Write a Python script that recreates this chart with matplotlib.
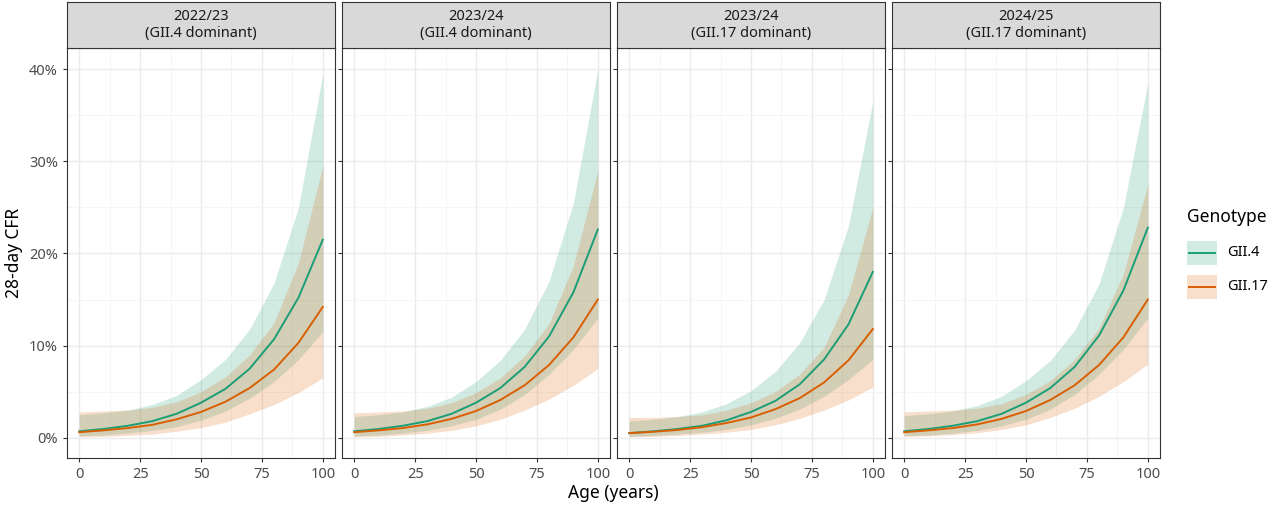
import matplotlib.pyplot as plt
from matplotlib.patches import Rectangle
from matplotlib.lines import Line2D

plt.rcParams['font.family'] = ['Noto Sans', 'DejaVu Sans']

ages = [0, 10, 20, 30, 40, 50, 60, 70, 80, 90, 100]
titles = ["2022/23\n(GII.4 dominant)", "2023/24\n(GII.4 dominant)",
          "2023/24\n(GII.17 dominant)", "2024/25\n(GII.17 dominant)"]

# CFR in %, per panel: (mid, lo, hi)
gii4 = [
    ([0.7, 0.95, 1.3, 1.8, 2.6, 3.8, 5.3, 7.5, 10.7, 15.2, 21.5],
     [0.2, 0.3, 0.5, 0.8, 1.2, 1.9, 2.9, 4.3, 6.1, 8.5, 11.5],
     [2.5, 2.7, 3.0, 3.6, 4.6, 6.3, 8.5, 11.8, 16.8, 25.0, 39.5]),
    ([0.7, 0.95, 1.3, 1.8, 2.6, 3.8, 5.4, 7.7, 11.0, 15.8, 22.6],
     [0.2, 0.3, 0.5, 0.8, 1.3, 2.0, 3.1, 4.7, 6.9, 9.6, 13.0],
     [2.3, 2.5, 2.8, 3.4, 4.4, 6.1, 8.4, 11.8, 17.0, 25.5, 40.0]),
    ([0.5, 0.7, 0.95, 1.3, 1.9, 2.8, 4.0, 5.8, 8.5, 12.3, 18.0],
     [0.15, 0.25, 0.4, 0.6, 0.9, 1.4, 2.1, 3.1, 4.5, 6.3, 8.5],
     [1.8, 2.0, 2.3, 2.8, 3.7, 5.1, 7.2, 10.3, 15.0, 23.0, 36.5]),
    ([0.7, 0.95, 1.3, 1.8, 2.6, 3.8, 5.4, 7.7, 11.1, 16.0, 22.8],
     [0.2, 0.3, 0.5, 0.8, 1.3, 2.0, 3.1, 4.7, 6.9, 9.6, 13.0],
     [2.4, 2.6, 2.9, 3.5, 4.5, 6.2, 8.4, 11.7, 16.7, 25.0, 38.5]),
]
gii17 = [
    ([0.6, 0.8, 1.05, 1.4, 2.0, 2.8, 3.9, 5.4, 7.4, 10.3, 14.2],
     [0.1, 0.15, 0.25, 0.4, 0.7, 1.1, 1.7, 2.6, 3.6, 4.9, 6.5],
     [2.8, 2.9, 3.0, 3.3, 3.9, 5.0, 6.6, 9.0, 12.5, 19.0, 29.5]),
    ([0.6, 0.8, 1.05, 1.45, 2.05, 2.9, 4.1, 5.7, 7.9, 10.9, 15.0],
     [0.1, 0.15, 0.3, 0.5, 0.8, 1.3, 2.0, 3.0, 4.2, 5.7, 7.5],
     [2.7, 2.8, 2.9, 3.2, 3.8, 4.9, 6.5, 8.9, 12.4, 18.7, 29.0]),
    ([0.5, 0.65, 0.85, 1.15, 1.6, 2.2, 3.1, 4.3, 6.0, 8.4, 11.8],
     [0.1, 0.15, 0.25, 0.4, 0.6, 0.9, 1.4, 2.1, 3.0, 4.1, 5.5],
     [2.2, 2.2, 2.3, 2.5, 3.0, 3.8, 5.0, 6.9, 9.8, 15.5, 25.0]),
    ([0.6, 0.8, 1.05, 1.45, 2.05, 2.9, 4.1, 5.7, 7.9, 10.9, 15.0],
     [0.15, 0.2, 0.35, 0.55, 0.9, 1.4, 2.2, 3.2, 4.5, 6.1, 8.0],
     [2.8, 2.9, 3.0, 3.2, 3.7, 4.7, 6.2, 8.5, 11.9, 17.8, 27.5]),
]

c4 = "#1b9e77"
c17 = "#d95f02"

fig = plt.figure(figsize=(12.8, 5.07), dpi=100)
lefts = [67, 342, 617, 892]
pw = 268
for i in range(4):
    ax = fig.add_axes([lefts[i] / 1280, 1 - 458 / 507, pw / 1280, 410 / 507])
    for (mid, lo, hi), col in [(gii4[i], c4), (gii17[i], c17)]:
        ax.fill_between(ages, lo, hi, color=col, alpha=0.2, lw=0)
    for (mid, lo, hi), col in [(gii4[i], c4), (gii17[i], c17)]:
        ax.plot(ages, mid, color=col, lw=1.4)
    ax.set_xlim(-5, 105)
    ax.set_ylim(-2.2, 42.3)
    ax.set_xticks([0, 25, 50, 75, 100])
    ax.set_xticks([12.5, 37.5, 62.5, 87.5], minor=True)
    ax.set_yticks([0, 10, 20, 30, 40])
    ax.set_yticks([5, 15, 25, 35], minor=True)
    ax.grid(True, which='major', color='#ebebeb', lw=1.0)
    ax.grid(True, which='minor', color='#f4f4f4', lw=0.6)
    ax.set_axisbelow(True)
    for s in ax.spines.values():
        s.set_color('#333333')
        s.set_linewidth(0.8)
    ax.tick_params(which='major', color='#333333', labelcolor='#4d4d4d', labelsize=10.5, length=3)
    ax.tick_params(which='minor', length=0)
    if i == 0:
        ax.set_yticklabels(["0%", "10%", "20%", "30%", "40%"])
        ax.set_ylabel("28-day CFR", fontsize=12.5)
    else:
        ax.set_yticklabels([])
    # strip
    sax = fig.add_axes([lefts[i] / 1280, 1 - 48 / 507, pw / 1280, 46 / 507])
    sax.set_xticks([]); sax.set_yticks([])
    sax.set_facecolor('#d9d9d9')
    for s in sax.spines.values():
        s.set_color('#333333'); s.set_linewidth(0.8)
    sax.text(0.5, 0.5, titles[i], ha='center', va='center', fontsize=10.5,
             color='#1a1a1a', transform=sax.transAxes, linespacing=1.1)

fig.text(613 / 1280, 1 - 493 / 507, "Age (years)", ha='center', va='center', fontsize=12.5)

# legend
fig.text(1187 / 1280, 1 - 217 / 507, "Genotype", fontsize=12.5, va='center')
for y, col, lab in [(253, c4, "GII.4"), (287, c17, "GII.17")]:
    fig.patches.append(Rectangle((1187 / 1280, 1 - (y + 12) / 507), 30 / 1280, 24 / 507,
                                 transform=fig.transFigure, color=col, alpha=0.2, lw=0))
    fig.lines.append(Line2D([1189 / 1280, 1215 / 1280], [1 - y / 507] * 2,
                            transform=fig.transFigure, color=col, lw=1.4))
    fig.text(1227 / 1280, 1 - y / 507, lab, fontsize=10.5, va='center')

fig.savefig("out.png", dpi=100)
